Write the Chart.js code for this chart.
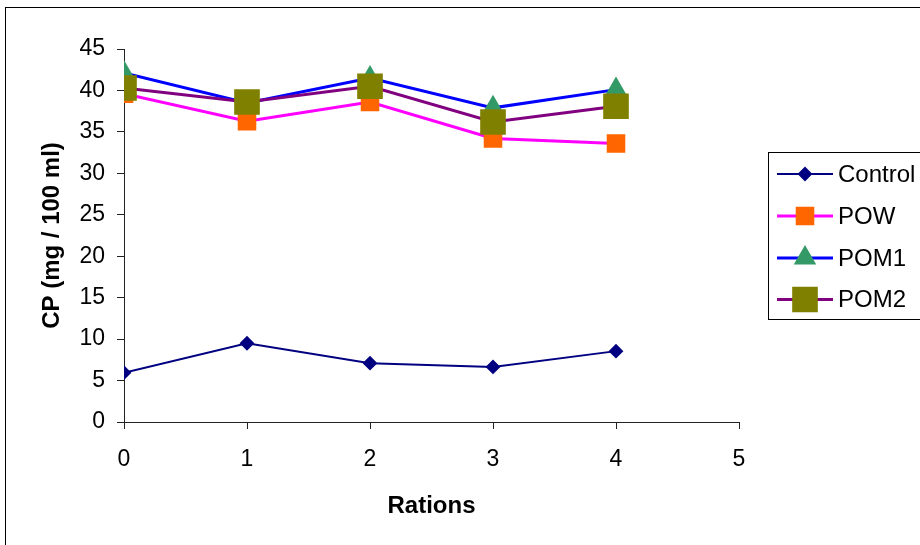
<!DOCTYPE html>
<html>
<head>
<meta charset="utf-8">
<script src="https://cdn.jsdelivr.net/npm/chart.js@4.4.1/dist/chart.umd.min.js"></script>
<style>
  html, body { margin: 0; padding: 0; background: #fff; }
  #wrap { width: 920px; height: 545px; }
</style>
</head>
<body>
<div id="wrap"><canvas id="cpChart" width="920" height="545"></canvas></div>
<script>
const rations = [0, 1, 2, 3, 4];
const control = [5.95, 9.5, 7.1, 6.65, 8.55];
const pow = [39.6, 36.3, 38.6, 34.2, 33.6];
const pom1 = [42.1, 38.5, 41.5, 37.9, 40.1];
const pom2 = [40.3, 38.6, 40.5, 36.2, 38.1];
const yTicks = [0, 5, 10, 15, 20, 25, 30, 35, 40, 45];

const pts = (vals) => rations.map((r, i) => ({ x: r, y: vals[i] }));

// excel-ish legend with line + marker, plus outer frame
const legendBox = {
  id: "legendBox",
  afterDraw(chart) {
    const ctx = chart.ctx;
    ctx.save();
    ctx.strokeStyle = "#000";
    ctx.lineWidth = 1;
    ctx.strokeRect(5.5, 7.5, 1000, 1000);
    ctx.strokeRect(768.5, 152.5, 300, 167);

    const rows = [174, 216, 258, 299.5];
    chart.data.datasets.forEach((ds, i) => {
      const y = rows[i];
      ctx.strokeStyle = ds.borderColor;
      ctx.lineWidth = ds.borderWidth;
      ctx.beginPath();
      ctx.moveTo(777, y);
      ctx.lineTo(833, y);
      ctx.stroke();
      ctx.fillStyle = ds.pointBackgroundColor;
      ctx.strokeStyle = ds.pointBorderColor;
      Chart.helpers.drawPoint(ctx, {
        pointStyle: ds.pointStyle,
        radius: ds.legendRadius,
        rotation: 0,
        borderWidth: 1
      }, 805, y);
      ctx.fillStyle = "#000";
      ctx.font = "24px Arial, 'Liberation Sans', sans-serif";
      ctx.textAlign = "left";
      ctx.textBaseline = "middle";
      ctx.fillText(ds.label, 838, y + 1);
    });
    ctx.restore();
  }
};

new Chart(document.getElementById("cpChart"), {
  type: "line",
  data: {
    datasets: [
      {
        label: "Control", data: pts(control), order: 3,
        borderColor: "#000080", borderWidth: 2,
        pointStyle: "rectRot", pointRadius: 6, legendRadius: 6,
        pointBackgroundColor: "#000080", pointBorderColor: "#000080"
      },
      {
        label: "POW", data: pts(pow), order: 2,
        borderColor: "#FF00FF", borderWidth: 3,
        pointStyle: "rect", pointRadius: 11, legendRadius: 11,
        pointBackgroundColor: "#FF6600", pointBorderColor: "#FF6600"
      },
      {
        label: "POM1", data: pts(pom1), order: 1,
        borderColor: "#0000FF", borderWidth: 3,
        pointStyle: "triangle", pointRadius: 10, legendRadius: 10,
        pointBackgroundColor: "#339966", pointBorderColor: "#339966"
      },
      {
        label: "POM2", data: pts(pom2), order: 0,
        borderColor: "#800080", borderWidth: 3,
        pointStyle: "rect", pointRadius: 16, legendRadius: 16,
        pointBackgroundColor: "#808000", pointBorderColor: "#808000"
      }
    ]
  },
  options: {
    responsive: false,
    animation: false,
    layout: { padding: { top: 49, right: 181, left: 0, bottom: 0 } },
    scales: {
      x: {
        type: "linear", min: 0, max: 5,
        afterFit: (s) => { s.height = 123; },
        afterBuildTicks: (s) => { s.ticks = rations.concat([5]).map(v => ({ value: v })); },
        ticks: { color: "#000", padding: 17, font: { family: "Arial", size: 23 } },
        grid: { drawOnChartArea: false, tickLength: 7, color: "#222", tickColor: "#222" },
        border: { color: "#222", width: 1 },
        title: {
          display: true, text: "Rations", color: "#000",
          font: { family: "Arial", size: 24, weight: "bold" },
          padding: { top: 0, bottom: 24 }
        }
      },
      y: {
        min: 0, max: 45,
        afterFit: (s) => { s.width = 124; },
        afterBuildTicks: (s) => { s.ticks = yTicks.map(v => ({ value: v })); },
        ticks: { color: "#000", padding: 12, font: { family: "Arial", size: 23 } },
        grid: { drawOnChartArea: false, tickLength: 7, color: "#222", tickColor: "#222" },
        border: { color: "#222", width: 1 },
        title: {
          display: true, text: "CP (mg / 100 ml)", color: "#000",
          font: { family: "Arial", size: 24, weight: "bold" },
          padding: { top: 38, bottom: 0 }
        }
      }
    },
    plugins: {
      legend: { display: false },
      tooltip: { enabled: false }
    }
  },
  plugins: [legendBox]
});
</script>
</body>
</html>
